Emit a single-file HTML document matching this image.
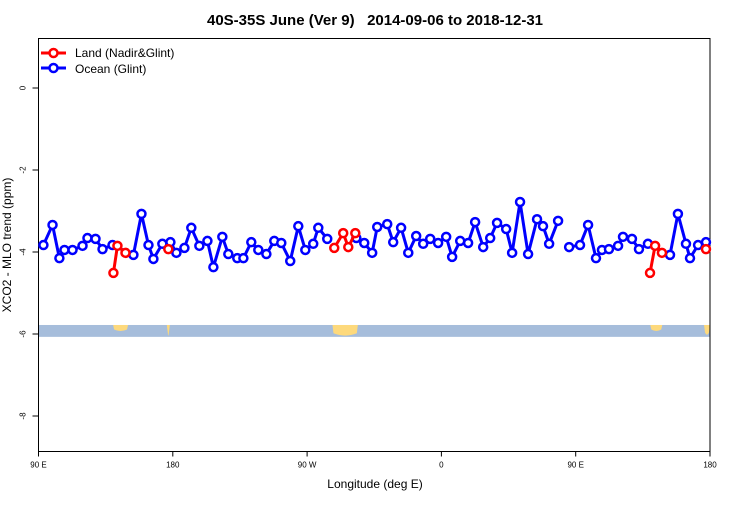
<!DOCTYPE html>
<html><head><meta charset="utf-8"><style>
body{margin:0;background:#fff;}
svg{font-family:"Liberation Sans",sans-serif;}
</style></head><body>
<svg id="chart" width="750" height="500">
<text x="375" y="25" text-anchor="middle" font-size="15" font-weight="bold" style="white-space:pre" xml:space="preserve">40S-35S June (Ver 9)   2014-09-06 to 2018-12-31</text>
<g id="band"></g>
<g id="axes"></g>
<g id="series"></g>
<g id="legend">
<g>
<line x1="41" y1="53" x2="66" y2="53" stroke="#f00" stroke-width="3"/>
<circle cx="53.5" cy="53" r="4" fill="#fff" stroke="#f00" stroke-width="2.5"/>
<text x="75" y="57" font-size="12">Land (Nadir&amp;Glint)</text></g>
<g>
<line x1="41" y1="68" x2="66" y2="68" stroke="#00f" stroke-width="3"/>
<circle cx="53.5" cy="68" r="4" fill="#fff" stroke="#00f" stroke-width="2.5"/>
<text x="75" y="73" font-size="12">Ocean (Glint)</text></g>
</g>
<text x="375" y="488" text-anchor="middle" font-size="12">Longitude (deg E)</text>
<text transform="translate(11,245) rotate(-90)" text-anchor="middle" font-size="12">XCO2 - MLO trend (ppm)</text>
</svg>
<script>
const oceanLon=[93.3,99.4,104,107.4,112.8,119.5,122.8,128.2,132.9,139.6,153.6,159,163.7,167,173,178.4,182.4,187.8,192.4,197.8,203.2,207.2,213.2,217.2,223.2,227.3,232.6,237.3,242.7,248,252.7,258.7,264.1,268.8,274.1,277.5,283.5,null,303,308.3,313.6,317,323.7,327.7,333,337.8,343.1,347.8,352.5,357.8,363.2,367.2,372.6,377.9,382.6,388,392.7,397.3,403.4,407.4,412.7,418.1,424.1,428.1,432.2,438.2,null,445.6,452.9,458.3,463.6,467.6,472.3,478.4,481.7,487.7,492.4,498.4,513.2,518.5,523.9,526.6,532,537.3];
const oceanVal=[-3.83,-3.34,-4.15,-3.95,-3.95,-3.85,-3.66,-3.68,-3.93,-3.83,-4.07,-3.07,-3.83,-4.17,-3.80,-3.76,-4.02,-3.90,-3.41,-3.85,-3.73,-4.37,-3.63,-4.05,-4.15,-4.15,-3.76,-3.95,-4.05,-3.73,-3.78,-4.22,-3.37,-3.95,-3.80,-3.41,-3.68,null,-3.66,-3.78,-4.02,-3.39,-3.32,-3.76,-3.41,-4.02,-3.61,-3.80,-3.68,-3.78,-3.63,-4.12,-3.73,-3.78,-3.27,-3.88,-3.66,-3.29,-3.44,-4.02,-2.78,-4.05,-3.20,-3.37,-3.80,-3.24,null,-3.88,-3.83,-3.34,-4.15,-3.95,-3.93,-3.85,-3.63,-3.68,-3.93,-3.80,-4.07,-3.07,-3.80,-4.15,-3.83,-3.76];
const landLon=[140.2,142.9,148.3,null,177,null,288.2,294.2,297.6,302.3,null,499.8,503.2,507.8,null,537.3];
const landVal=[-4.51,-3.85,-4.02,null,-3.93,null,-3.90,-3.54,-3.88,-3.54,null,-4.51,-3.85,-4.02,null,-3.93];
const yTicks=[0,-2,-4,-6,-8];
const xTickLon=[90,180,270,360,450,540];
const xTickLab=["90 E","180","90 W","0","90 E","180"];
const landBlobs=[[140,150,0.55],[176,178,1],[287,304,1],[500,508,0.55],[536,540,0.9]];
const NS="http://www.w3.org/2000/svg";
const L=38.5,R=710,T=38.5,B=451.5;
const xs=l=>L+(l-90)*(R-L)/450;
const ys=v=>88-v*41;
function mk(t,a,p){const e=document.createElementNS(NS,t);for(const k in a)e.setAttribute(k,a[k]);p.appendChild(e);return e;}
const band=document.getElementById('band');
const bt=ys(-5.78),bb=ys(-6.07);
let r=mk('rect',{x:L,y:bt,width:R-L,height:bb-bt,fill:'#a6bddb'},band);


landBlobs.forEach(b=>{const x0=xs(b[0]),x1=xs(b[1]),h=(bb-bt)*b[2];
const e=mk('path',{d:`M${x0},${bt} L${x1},${bt} L${x1-1},${bt+h*0.7} Q${(x0+x1)/2},${bt+h+1} ${x0+1},${bt+h*0.7} Z`,fill:'#fdd97c'},band);

});
const ax=document.getElementById('axes');
mk('rect',{x:L,y:T,width:R-L,height:B-T,fill:'none',stroke:'#000','stroke-width':1},ax);
yTicks.forEach(v=>{mk('line',{x1:L-6,x2:L,y1:ys(v),y2:ys(v),stroke:'#000'},ax);
const t=mk('text',{transform:`translate(${L-13},${ys(v)}) rotate(-90)`,'text-anchor':'middle','font-size':8},ax);t.textContent=v;

});
xTickLon.forEach((l,i)=>{mk('line',{x1:xs(l),x2:xs(l),y1:B,y2:B+5,stroke:'#000'},ax);
const t=mk('text',{x:xs(l),y:B+16,'text-anchor':'middle','font-size':8},ax);t.textContent=xTickLab[i];

});
function draw(lon,val,col,name){const g=document.getElementById('series');let seg=[];const segs=[];
lon.forEach((l,i)=>{if(l===null||val[i]===null){if(seg.length)segs.push(seg);seg=[];}else seg.push([xs(l),ys(val[i])]);});
if(seg.length)segs.push(seg);
segs.forEach(s=>{const p=mk('polyline',{points:s.map(q=>q.join(',')).join(' '),fill:'none',stroke:col,'stroke-width':3,'stroke-linejoin':'round'},g);

});
segs.forEach(s=>s.forEach(q=>{const c=mk('circle',{cx:q[0],cy:q[1],r:4,fill:'#fff',stroke:col,'stroke-width':2.5},g);

}));}
draw(oceanLon,oceanVal,'#00f','ocean');
draw(landLon,landVal,'#f00','land');
</script>
</body></html>
